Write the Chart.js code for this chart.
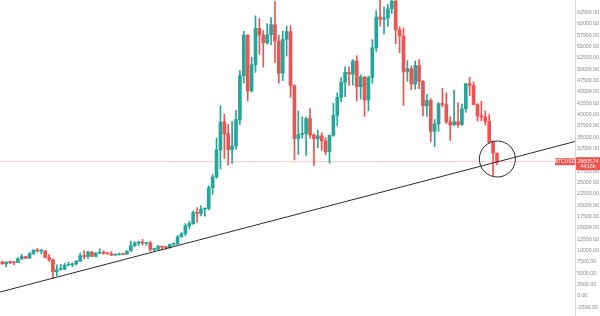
<!DOCTYPE html>
<html lang="en">
  <head>
    <meta charset="UTF-8" />
    <title>BTCUSD weekly</title>
    <style>
      html, body { margin: 0; padding: 0; background: #fff; }
      canvas { display: block; }
    </style>
  </head>
  <body>
    <canvas id="btcChart" width="600" height="316"></canvas>

    <script src="https://cdn.jsdelivr.net/npm/chart.js@4.4.0/dist/chart.umd.min.js"></script>
    <script>
      // weekly candles, week of 2019-12-09 up to week of 2022-05-16
      const opens = [
        7520, 7080, 7500, 7380, 7350, 8180, 8700, 8330, 9330, 10150,
        9900, 9970, 8530, 8030, 5360, 5830, 5880, 6780, 6900, 7130,
        7700, 8900, 8720, 9680, 8720, 9450, 9670, 9390, 9300, 9000,
        9070, 9280, 9200, 9930, 11100, 11680, 11900, 11650, 11700, 10250,
        10330, 10920, 10770, 10670, 11380, 11500, 13030, 13740, 15480, 15960,
        18400, 18200, 19150, 19270, 23860, 26250, 32200, 38350, 35800, 32250,
        33100, 38900, 48600, 57500, 45200, 51000, 59000, 57500, 55800, 57600,
        59800, 56200, 49100, 56600, 58300, 46400, 34700, 35600, 35800, 39100,
        35500, 34700, 35300, 34250, 31800, 35400, 39850, 43800, 47100, 49300,
        48900, 51800, 46100, 48300, 43200, 48200, 54700, 61500, 61000, 61300,
        63300, 65000, 58700, 57300, 49400, 50100, 46700, 50800, 47300, 41900,
        43100, 36300, 37900, 42400, 42200, 38400, 37700, 38400, 37800, 41300,
        46800, 46400, 42200, 39700, 39450, 38500, 34000, 31500
      ];
      const highs = [
        7650, 7520, 7700, 7500, 8450, 9190, 8800, 9570, 10160, 10500,
        10250, 9980, 9180, 8180, 6900, 6980, 7200, 7470, 7300, 7800,
        9480, 10000, 9920, 9850, 9620, 10400, 9980, 9580, 9790, 9310,
        9460, 9330, 9980, 12100, 12000, 12080, 12480, 11800, 12080, 10580,
        11180, 10990, 10970, 11490, 11740, 13350, 14000, 15960, 16480, 18800,
        19480, 19920, 19420, 24290, 26800, 34800, 41950, 40100, 37850, 38500,
        40950, 49700, 58350, 57600, 52650, 61780, 61200, 58500, 60000, 61400,
        64900, 57500, 58400, 59500, 59600, 46600, 40800, 39500, 39400, 41300,
        35750, 36600, 35960, 34900, 35500, 42500, 44800, 48150, 50500, 50500,
        52100, 52950, 48800, 48400, 48500, 56500, 62900, 67000, 63700, 64300,
        69000, 66300, 59300, 59100, 51900, 50700, 51800, 52100, 47500, 44400,
        43500, 38900, 42600, 45800, 44800, 39500, 45400, 42600, 42300, 46900,
        48200, 47200, 42400, 42900, 40800, 40000, 34200, 31500
      ];
      const lows = [
        7020, 6430, 7150, 6870, 7340, 8050, 8240, 8300, 9150, 9700,
        9300, 8450, 7630, 3850, 4450, 5680, 5860, 6770, 6470, 6780,
        7630, 8100, 8240, 8800, 8640, 9300, 9200, 9240, 8900, 8950,
        9050, 9050, 9150, 9900, 10900, 11130, 11250, 11150, 9880, 9830,
        10200, 10140, 10370, 10530, 11180, 11400, 12980, 13280, 14800, 15800,
        16200, 17650, 17600, 19000, 22400, 25900, 28000, 30300, 28850, 29240,
        32300, 37800, 47000, 43000, 44950, 49300, 53300, 50450, 55500, 55400,
        51500, 47000, 47500, 52900, 43800, 30000, 31200, 34800, 31000, 34800,
        28800, 32700, 32100, 31100, 29300, 35200, 37500, 42800, 43950, 46400,
        46500, 43000, 43400, 39600, 40800, 46900, 53900, 59500, 57800, 59400,
        62300, 55600, 53600, 42000, 47300, 45500, 45600, 45700, 39700, 39600,
        34000, 32950, 36300, 41700, 38000, 34300, 37600, 37200, 37600, 40500,
        44200, 42100, 38600, 38600, 37700, 33700, 26500, 28900
      ];
      const closes = [
        7080, 7500, 7380, 7350, 8180, 8700, 8330, 9330, 10150, 9900,
        9970, 8530, 8030, 5360, 5830, 5880, 6780, 6900, 7130, 7700,
        8900, 8720, 9680, 8720, 9450, 9670, 9390, 9300, 9000, 9070,
        9280, 9200, 9930, 11100, 11680, 11900, 11650, 11700, 10250, 10330,
        10920, 10770, 10670, 11380, 11500, 13030, 13740, 15480, 15960, 18400,
        18200, 19150, 19270, 23860, 26250, 32200, 38350, 35800, 32250, 33100,
        38900, 48600, 57500, 45200, 51000, 59000, 57500, 55800, 57600, 59800,
        56200, 49100, 56600, 58300, 46400, 34700, 35600, 35800, 39100, 35500,
        34700, 35300, 34250, 31800, 35400, 39850, 43800, 47100, 49300, 48900,
        51800, 46100, 48300, 43200, 48200, 54700, 61500, 61000, 61300, 63300,
        65000, 58700, 57300, 49400, 50100, 46700, 50800, 47300, 41900, 43100,
        36300, 37900, 42400, 42200, 38400, 37700, 38400, 37800, 41300, 46800,
        46400, 42200, 39700, 39450, 38500, 34000, 31500, 29605.74
      ];

      const priceTicks = [
        -2500, 0, 2500, 5000, 7500, 10000, 12500, 15000, 17500, 20000,
        22500, 25000, 27500, 30000, 32500, 35000, 37500, 40000, 42500,
        45000, 47500, 50000, 52500, 55000, 57500, 60000, 62500
      ];

      const symbol = "BTCUSD";
      const lastPrice = 29605.74;
      const countdown = "44:16h";

      // hand drawn support line and circle (week index, price)
      const trendX = [-0.6, 147];
      const trendY = [880, 34050];
      const circleX = 127.1;
      const circleY = 30200;

      const UP = "#26a69a";
      const DOWN = "#ef5350";

      const candleColor = (i) => (closes[i] >= opens[i] ? UP : DOWN);

      const wicks = opens.map((o, i) => ({ x: i, y: [lows[i], highs[i]] }));
      const bodies = opens.map((o, i) => ({ x: i, y: [o, closes[i]] }));

      const priceTags = {
        id: "priceTags",
        afterDatasetsDraw(chart) {
          const { ctx, chartArea, scales } = chart;
          const y = scales.y.getPixelForValue(lastPrice);
          const r = chartArea.right;
          ctx.save();
          ctx.fillStyle = DOWN;
          ctx.fillRect(r - 20, y - 3.5, 20, 7);
          ctx.fillRect(r + 1, y - 4.5, 24, 13);
          ctx.fillStyle = "#fff";
          ctx.font = '5px "Liberation Sans"';
          ctx.textAlign = "center";
          ctx.textBaseline = "middle";
          ctx.fillText(symbol, r - 10, y);
          ctx.fillText(lastPrice.toFixed(2), r + 13, y - 0.5);
          ctx.fillText(countdown, r + 13, y + 4.5);
          ctx.restore();
        }
      };

      new Chart(document.getElementById("btcChart"), {
        type: "bar",
        data: {
          datasets: [
            {
              type: "line",
              data: [{ x: trendX[0], y: lastPrice }, { x: trendX[1], y: lastPrice }],
              borderColor: "rgba(239, 83, 80, 0.3)",
              borderWidth: 1,
              pointRadius: 0,
              order: 5
            },
            {
              data: wicks,
              backgroundColor: (c) => candleColor(c.dataIndex),
              barThickness: 1,
              grouped: false,
              order: 4
            },
            {
              data: bodies,
              backgroundColor: (c) => candleColor(c.dataIndex),
              barThickness: 3,
              minBarLength: 1,
              grouped: false,
              order: 3
            },
            {
              type: "line",
              data: [{ x: trendX[0], y: trendY[0] }, { x: trendX[1], y: trendY[1] }],
              borderColor: "#2b2b2b",
              borderWidth: 1,
              pointRadius: 0,
              order: 2
            },
            {
              type: "bubble",
              data: [{ x: circleX, y: circleY, r: 18 }],
              backgroundColor: "rgba(0,0,0,0)",
              borderColor: "#2b2b2b",
              borderWidth: 1,
              order: 1
            }
          ]
        },
        options: {
          responsive: false,
          animation: false,
          events: [],
          layout: { padding: 0, autoPadding: false },
          plugins: { legend: { display: false }, tooltip: { enabled: false } },
          scales: {
            x: {
              type: "linear",
              min: -0.59,
              max: 147.03,
              offset: false,
              display: false
            },
            y: {
              position: "right",
              min: -4400,
              max: 65250,
              grid: { display: false, drawTicks: false },
              border: { display: true, color: "#d4d4d4" },
              ticks: {
                padding: 2,
                color: "#8a8a8a",
                font: { family: "Liberation Sans", size: 5.3 },
                callback: (v) => v.toFixed(2)
              },
              afterBuildTicks(scale) {
                scale.ticks = priceTicks.map((v) => ({ value: v }));
              },
              afterFit(scale) {
                scale.width = 25;
                scale.paddingTop = 0;
                scale.paddingBottom = 0;
              }
            }
          }
        },
        plugins: [priceTags]
      });
    </script>
  </body>
</html>
